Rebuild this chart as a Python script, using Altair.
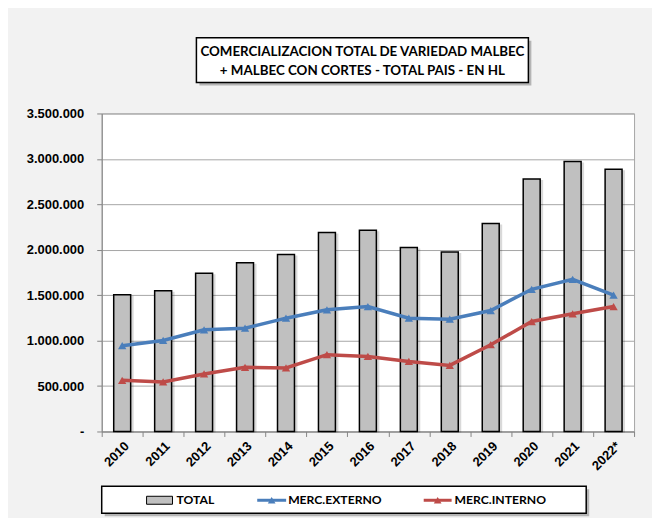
import altair as alt
import pandas as pd

years = ["2010", "2011", "2012", "2013", "2014", "2015", "2016",
         "2017", "2018", "2019", "2020", "2021", "2022*"]
total = [1506000, 1550000, 1741000, 1858000, 1949000, 2191000, 2216000,
         2026000, 1975000, 2290000, 2779000, 2970000, 2886000]
externo = [944000, 1002000, 1119000, 1137000, 1247000, 1339000, 1375000,
           1247000, 1236000, 1331000, 1565000, 1675000, 1500000]
interno = [563000, 545000, 633000, 706000, 699000, 845000, 826000,
           771000, 727000, 955000, 1210000, 1295000, 1375000]

series_names = ["MERC.EXTERNO", "MERC.INTERNO"]
series_colors = ["#4a7ebb", "#be4b48"]
title_lines = ["COMERCIALIZACION TOTAL DE VARIEDAD MALBEC",
               "+ MALBEC CON CORTES - TOTAL PAIS - EN HL"]

bars_df = pd.DataFrame({"year": years, "TOTAL": total})
lines_df = pd.DataFrame({
    "year": years * 2,
    "serie": [series_names[0]] * len(years) + [series_names[1]] * len(years),
    "value": externo + interno,
})

FONT = "Lato, sans-serif"
AXFONT = "Liberation Sans, Arial, sans-serif"

W, H = 534, 319

x_enc = alt.X("year:N", sort=years, title=None,
              scale=alt.Scale(paddingInner=0, paddingOuter=0),
              axis=alt.Axis(labelAngle=-45, labelAlign="right", labelBaseline="top",
                            tickBand="extent", tickSize=5, tickColor="#868686",
                            domainColor="#868686", labelFont=AXFONT, labelFontSize=13,
                            labelFontWeight="bold", labelColor="#000000", labelPadding=3,
                            grid=False))
y_scale = alt.Scale(domain=[0, 3500000], nice=False)
y_axis = alt.Axis(values=[0, 500000, 1000000, 1500000, 2000000, 2500000, 3000000, 3500000],
                  labelExpr="datum.value == 0 ? '-' : replace(format(datum.value, ',.0f'), regexp(',', 'g'), '.')",
                  labelFont=AXFONT, labelFontSize=13, labelFontWeight="bold",
                  labelColor="#000000", labelPadding=13, tickSize=5, tickColor="#868686",
                  domainColor="#868686", gridColor="#a6a6a6", gridWidth=1, title=None)

shadow = alt.Chart(bars_df).mark_bar(size=17, color="#000000", opacity=0.15, xOffset=3, yOffset=1).encode(
    x=x_enc, y=alt.Y("TOTAL:Q", scale=y_scale, axis=y_axis))

bars = alt.Chart(bars_df).mark_bar(size=17, color="#c0c0c0", stroke="#000000", strokeWidth=1.5).encode(
    x=x_enc, y=alt.Y("TOTAL:Q", scale=y_scale, axis=y_axis))

color_scale = alt.Scale(domain=series_names, range=series_colors)
lines = alt.Chart(lines_df).mark_line(strokeWidth=3.5).encode(
    x=alt.X("year:N", sort=years),
    y=alt.Y("value:Q", scale=y_scale),
    color=alt.Color("serie:N", scale=color_scale, legend=None),
)
points = alt.Chart(lines_df).mark_point(shape="triangle-up", filled=True, size=70, opacity=1).encode(
    x=alt.X("year:N", sort=years),
    y=alt.Y("value:Q", scale=y_scale),
    color=alt.Color("serie:N", scale=color_scale, legend=None),
)

one = pd.DataFrame({"k": [0]})

# Title box
title_shadow = alt.Chart(one).mark_rect(color="#000000", opacity=0.25).encode(
    x=alt.value(98), x2=alt.value(431), y=alt.value(-73), y2=alt.value(-28))
title_box = alt.Chart(one).mark_rect(fill="#ffffff", stroke="#000000", strokeWidth=1.5).encode(
    x=alt.value(95), x2=alt.value(428), y=alt.value(-76), y2=alt.value(-31))
title1 = alt.Chart(one).mark_text(text=title_lines[0], font=FONT, fontSize=13.4, fontWeight="bold",
                                  align="center", baseline="middle", color="#000000").encode(
    x=alt.value(261.5), y=alt.value(-62))
title2 = alt.Chart(one).mark_text(text=title_lines[1], font=FONT, fontSize=13.4, fontWeight="bold",
                                  align="center", baseline="middle", color="#000000").encode(
    x=alt.value(261.5), y=alt.value(-43))

# Legend
LFS = 12.2
leg_shadow = alt.Chart(one).mark_rect(color="#000000", opacity=0.25).encode(
    x=alt.value(3), x2=alt.value(489), y=alt.value(377), y2=alt.value(404))
leg_box = alt.Chart(one).mark_rect(fill="#ffffff", stroke="#000000", strokeWidth=1.5).encode(
    x=alt.value(0), x2=alt.value(486), y=alt.value(374), y2=alt.value(401))
leg_sw = alt.Chart(one).mark_rect(fill="#c0c0c0", stroke="#000000", strokeWidth=1).encode(
    x=alt.value(45), x2=alt.value(71), y=alt.value(384), y2=alt.value(392))
leg_t1 = alt.Chart(one).mark_text(text="TOTAL", font=FONT, fontSize=LFS, fontWeight="bold",
                                  align="left", baseline="middle", color="#000000").encode(
    x=alt.value(75), y=alt.value(388))
leg_l2 = alt.Chart(one).mark_rule(color=series_colors[0], strokeWidth=3).encode(
    x=alt.value(156), x2=alt.value(185), y=alt.value(388))
leg_p2 = alt.Chart(one).mark_point(shape="triangle-up", filled=True, size=60, color=series_colors[0], opacity=1).encode(
    x=alt.value(170.5), y=alt.value(388))
leg_t2 = alt.Chart(one).mark_text(text=series_names[0], font=FONT, fontSize=LFS, fontWeight="bold",
                                  align="left", baseline="middle", color="#000000").encode(
    x=alt.value(187), y=alt.value(388))
leg_l3 = alt.Chart(one).mark_rule(color=series_colors[1], strokeWidth=3).encode(
    x=alt.value(323), x2=alt.value(351), y=alt.value(388))
leg_p3 = alt.Chart(one).mark_point(shape="triangle-up", filled=True, size=60, color=series_colors[1], opacity=1).encode(
    x=alt.value(337), y=alt.value(388))
leg_t3 = alt.Chart(one).mark_text(text=series_names[1], font=FONT, fontSize=LFS, fontWeight="bold",
                                  align="left", baseline="middle", color="#000000").encode(
    x=alt.value(354), y=alt.value(388))

chart = alt.layer(
    shadow, bars, lines, points,
    title_shadow, title_box, title1, title2,
    leg_shadow, leg_box, leg_sw, leg_t1, leg_l2, leg_p2, leg_t2, leg_l3, leg_p3, leg_t3,
).resolve_scale(color="shared").properties(
    width=W, height=H,
    autosize=alt.AutoSizeParams(type="none"),
    padding={"left": 94, "top": 105, "right": 18, "bottom": 86},
).configure(
    background="#f2f2f2",
).configure_view(
    fill="#ffffff", stroke="#a6a6a6", strokeWidth=1,
)

chart.save("out.html", embed_options={"renderer": "svg", "actions": False})
